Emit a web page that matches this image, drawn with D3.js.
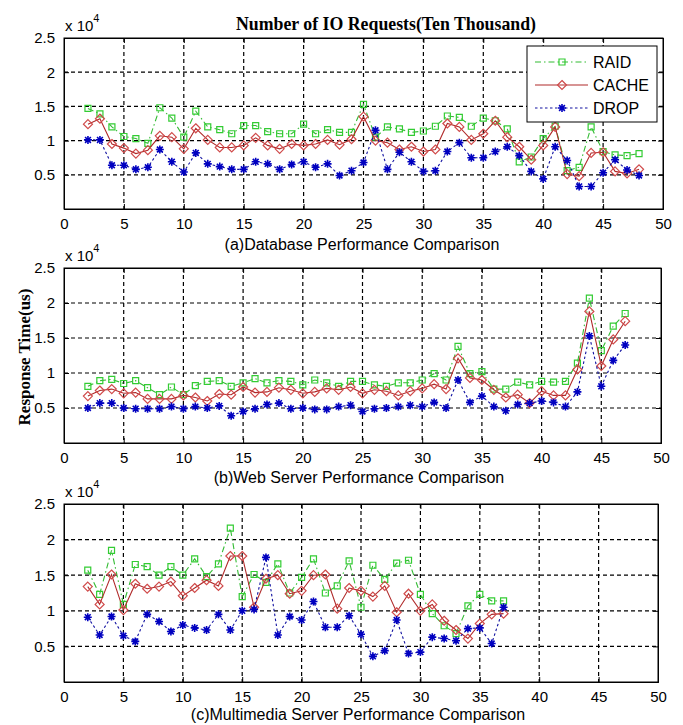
<!DOCTYPE html>
<html>
<head>
<meta charset="utf-8">
<script src="https://cdn.jsdelivr.net/npm/d3@7"></script>
<style>
  body { margin: 0; background: #fff; }
  svg { display: block; }
  text { fill: #000; }
</style>
</head>
<body>
<svg id="chart" width="683" height="725"></svg>
<script>
// ---- data (values in units of 10^4 us) ----
const xA = [2,3,4,5,6,7,8,9,10,11,12,13,14,15,16,17,18,19,20,21,22,23,24,25,26,27,28,29,30,31,32,33,34,35,36,37,38,39,40,41,42,43,44,45,46,47,48];
const raidA = [1.47,1.39,1.20,1.06,1.03,0.96,1.48,1.33,1.05,1.43,1.20,1.16,1.10,1.22,1.22,1.13,1.10,1.10,1.24,1.10,1.16,1.12,1.12,1.53,1.05,1.20,1.17,1.12,1.14,1.21,1.36,1.34,1.21,1.33,1.29,1.17,0.69,0.76,1.03,1.21,0.56,0.61,1.20,0.84,0.79,0.78,0.81];
const cacheA = [1.24,1.32,0.95,0.89,0.81,0.86,1.07,1.05,0.88,1.18,1.01,0.90,0.90,0.93,1.04,0.93,0.88,0.95,0.93,0.95,1.01,0.94,1.02,1.35,1.00,0.97,0.87,0.91,0.84,0.87,1.25,1.20,1.01,1.10,1.29,1.05,0.91,0.72,0.93,1.20,0.51,0.48,0.82,0.83,0.55,0.52,0.58];
const dropA = [1.01,1.01,0.64,0.64,0.58,0.61,0.87,0.69,0.54,0.82,0.66,0.62,0.58,0.58,0.69,0.66,0.58,0.65,0.69,0.61,0.66,0.49,0.56,0.68,1.15,0.58,0.83,0.69,0.55,0.56,0.84,0.97,0.75,0.75,0.84,0.91,0.78,0.55,0.44,0.91,0.71,0.33,0.33,0.53,0.72,0.57,0.49];

const xB = [2,3,4,5,6,7,8,9,10,11,12,13,14,15,16,17,18,19,20,21,22,23,24,25,26,27,28,29,30,31,32,33,34,35,36,37,38,39,40,41,42,43,44,45,46,47];
const raidB = [0.81,0.89,0.91,0.85,0.89,0.79,0.69,0.80,0.69,0.82,0.88,0.89,0.81,0.86,0.92,0.86,0.89,0.88,0.83,0.90,0.86,0.81,0.88,0.88,0.83,0.81,0.86,0.86,0.90,0.99,0.90,1.38,0.99,1.02,0.77,0.77,0.87,0.83,0.88,0.87,0.88,1.14,2.07,1.32,1.67,1.85];
const cacheB = [0.67,0.75,0.77,0.71,0.72,0.63,0.63,0.63,0.68,0.65,0.60,0.70,0.69,0.80,0.72,0.73,0.79,0.76,0.71,0.73,0.78,0.76,0.80,0.71,0.76,0.74,0.68,0.74,0.78,0.84,0.77,1.21,0.93,0.90,0.76,0.65,0.69,0.57,0.74,0.68,0.68,1.05,1.88,1.10,1.48,1.74];
const dropB = [0.50,0.57,0.57,0.50,0.49,0.49,0.49,0.52,0.49,0.52,0.50,0.53,0.39,0.45,0.49,0.55,0.57,0.49,0.50,0.48,0.48,0.52,0.54,0.45,0.49,0.50,0.52,0.54,0.52,0.58,0.50,0.90,0.58,0.67,0.52,0.46,0.55,0.57,0.60,0.58,0.52,0.73,1.53,0.81,1.18,1.40];

const xC = [2,3,4,5,6,7,8,9,10,11,12,13,14,15,16,17,18,19,20,21,22,23,24,25,26,27,28,29,30,31,32,33,34,35,36,37];
const raidC = [1.57,1.23,1.85,1.09,1.65,1.62,1.50,1.62,1.50,1.73,1.48,1.66,2.16,1.20,1.51,1.40,1.66,1.25,1.47,1.73,1.25,1.35,1.70,1.05,1.64,1.44,1.67,1.71,1.23,0.96,0.79,0.68,1.07,1.23,1.14,1.14];
const cacheC = [1.34,1.09,1.51,1.01,1.38,1.31,1.34,1.41,1.21,1.32,1.43,1.35,1.77,1.77,1.05,1.45,1.50,1.24,1.28,1.50,1.51,1.03,1.32,1.28,1.20,1.35,0.98,1.24,1.00,1.09,0.86,0.73,0.61,0.82,0.95,0.96];
const dropC = [0.91,0.66,0.92,0.65,0.57,0.95,0.85,0.71,0.80,0.76,0.73,0.95,0.73,1.00,1.02,1.75,0.66,0.92,0.87,1.13,0.77,0.77,0.93,0.67,0.36,0.44,0.87,0.40,0.42,0.63,0.61,0.58,0.75,0.76,0.54,1.05];

const seriesNames = ["RAID", "CACHE", "DROP"];
const xTicks = [0,5,10,15,20,25,30,35,40,45,50];
const yTicks = [0.5,1,1.5,2,2.5];
const yTickLabels = ["0.5","1","1.5","2","2.5"];
const subtitles = ["(a)Database Performance Comparison", "(b)Web Server Performance Comparison", "(c)Multimedia Server Performance Comparison"];

// ---- styles ----
const SANS = "'Liberation Sans', Arial, sans-serif";
const SERIF = "'Liberation Serif', 'Times New Roman', serif";
const styles = {
  RAID:  { line: "#33bb33", marker: "#33cc33", dash: "6,3,1.5,3", shape: "square" },
  CACHE: { line: "#b02a2a", marker: "#d04a4a", dash: null, shape: "diamond" },
  DROP:  { line: "#1010a0", marker: "#0000c0", dash: "2.5,2.5", shape: "star" }
};

const svg = d3.select("#chart");

function markerPath(shape) {
  if (shape === "square") return "M-3,-3H3V3H-3Z";
  if (shape === "diamond") return "M0,-4.5L4.5,0L0,4.5L-4.5,0Z";
  return "M-4,0H4M0,-4V4M-2.9,-2.9L2.9,2.9M-2.9,2.9L2.9,-2.9";
}

function drawPanel(p) {
  const x = d3.scaleLinear().domain([0, 50]).range([p.left, p.right]);
  const y = d3.scaleLinear().domain([0, 2.5]).range([p.bottom, p.top]);
  const g = svg.append("g");

  // grid
  g.append("g").selectAll("line").data(xTicks.slice(1, -1)).join("line")
    .attr("x1", d => x(d)).attr("x2", d => x(d))
    .attr("y1", p.top).attr("y2", p.bottom)
    .attr("stroke", "#000").attr("stroke-width", 1.2).attr("stroke-dasharray", "4,3");
  g.append("g").selectAll("line").data(yTicks.slice(0, -1)).join("line")
    .attr("x1", p.left).attr("x2", p.right)
    .attr("y1", d => y(d)).attr("y2", d => y(d))
    .attr("stroke", "#000").attr("stroke-width", 1.2).attr("stroke-dasharray", "4,3");

  // axes (ticks inward)
  g.append("g").attr("transform", `translate(0,${p.bottom})`)
    .call(d3.axisBottom(x).tickValues(xTicks).tickSize(-5).tickPadding(9).tickFormat(d3.format("d")));
  g.append("g").attr("transform", `translate(0,${p.top})`)
    .call(d3.axisTop(x).tickValues(xTicks).tickSize(-5).tickFormat(""));
  g.append("g").attr("transform", `translate(${p.left},0)`)
    .call(d3.axisLeft(y).tickValues(yTicks).tickSize(-5).tickPadding(9).tickFormat((d, i) => yTickLabels[i]));
  g.append("g").attr("transform", `translate(${p.right},0)`)
    .call(d3.axisRight(y).tickValues(yTicks).tickSize(-5).tickFormat(""));
  g.selectAll(".domain").attr("stroke", "#000");
  g.selectAll(".tick line").attr("stroke", "#000");
  g.selectAll(".tick text").style("font-size", "15px").style("font-family", SANS);
  g.append("rect")
    .attr("x", p.left).attr("y", p.top)
    .attr("width", p.right - p.left).attr("height", p.bottom - p.top)
    .attr("fill", "none").attr("stroke", "#000").attr("stroke-width", 1);

  // x 10^4
  const ex = g.append("text").attr("x", p.left + 1).attr("y", p.top - 7)
    .style("font-family", SANS).style("font-size", "15px");
  ex.append("tspan").text("x 10");
  ex.append("tspan").attr("dy", -9).style("font-size", "11px").text("4");

  // series
  p.series.forEach((vals, si) => {
    const st = styles[seriesNames[si]];
    const pts = p.xs.map((xv, i) => [xv, vals[i]]);
    g.append("path").datum(pts)
      .attr("d", d3.line().x(d => x(d[0])).y(d => y(d[1])))
      .attr("fill", "none").attr("stroke", st.line).attr("stroke-width", 1.1)
      .attr("stroke-dasharray", st.dash);
    g.append("g").selectAll("path").data(pts).join("path")
      .attr("transform", d => `translate(${x(d[0])},${y(d[1])})`)
      .attr("d", markerPath(st.shape))
      .attr("fill", "none").attr("stroke", st.marker)
      .attr("stroke-width", st.shape === "star" ? 1.6 : 1.2);
  });

  // subtitle
  svg.append("text").attr("x", p.subX).attr("y", p.bottom + p.subDy)
    .attr("text-anchor", "middle")
    .style("font-family", SANS).style("font-size", "16px").text(p.subtitle);

  return { x, y };
}

const panels = [
  { left: 64, right: 663, top: 38, bottom: 209, subDy: 41, subX: 362, xs: xA, series: [raidA, cacheA, dropA], subtitle: subtitles[0] },
  { left: 64, right: 661, top: 268, bottom: 443, subDy: 40, subX: 359, xs: xB, series: [raidB, cacheB, dropB], subtitle: subtitles[1] },
  { left: 64, right: 658, top: 504, bottom: 682, subDy: 38, subX: 358, xs: xC, series: [raidC, cacheC, dropC], subtitle: subtitles[2] }
];
panels.forEach(drawPanel);

// title
svg.append("text").attr("x", 386).attr("y", 30).attr("text-anchor", "middle")
  .style("font-family", SERIF).style("font-weight", "bold").style("font-size", "17.8px")
  .text("Number of IO Requests(Ten Thousand)");

// y label
svg.append("text").attr("transform", "translate(30,357) rotate(-90)")
  .attr("text-anchor", "middle")
  .style("font-family", SERIF).style("font-weight", "bold").style("font-size", "17px")
  .text("Response Time(us)");

// legend (panel a)
const lg = svg.append("g");
lg.append("rect").attr("x", 527).attr("y", 46).attr("width", 130).attr("height", 76)
  .attr("fill", "#fff").attr("stroke", "#000").attr("stroke-width", 1);
seriesNames.forEach((name, i) => {
  const st = styles[name];
  const cy = 62 + i * 23;
  lg.append("line").attr("x1", 535).attr("x2", 588).attr("y1", cy).attr("y2", cy)
    .attr("stroke", st.line).attr("stroke-width", 1.1).attr("stroke-dasharray", st.dash);
  lg.append("path").attr("transform", `translate(562,${cy})`).attr("d", markerPath(st.shape))
    .attr("fill", "none").attr("stroke", st.marker).attr("stroke-width", st.shape === "star" ? 1.6 : 1.2);
  lg.append("text").attr("x", 593).attr("y", cy).attr("dy", "0.36em")
    .style("font-family", SANS).style("font-size", "16px").text(name);
});
</script>
</body>
</html>
